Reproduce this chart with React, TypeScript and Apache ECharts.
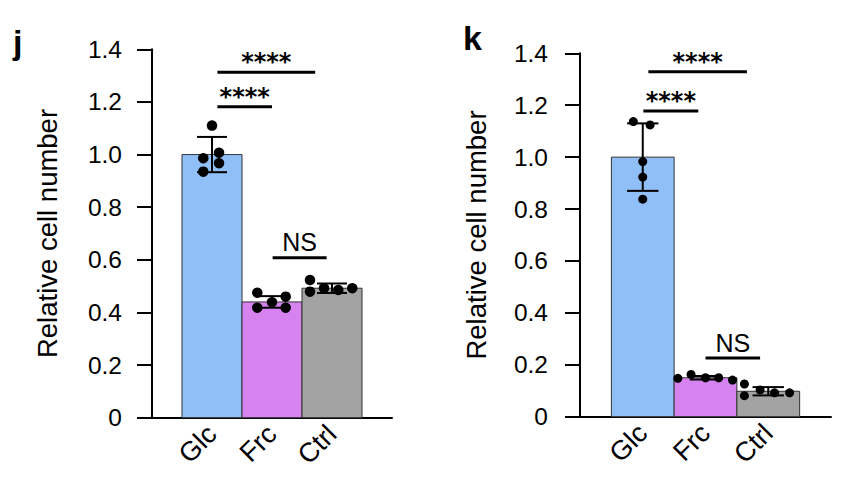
import React, { useEffect, useRef } from "react";
import * as echarts from "echarts";

const categories = ["Glc", "Frc", "Ctrl"];
const barColors = ["#90bff8", "#d683f0", "#a3a3a3"];

// Panel j
const jMeans = [1.0, 0.44, 0.492];
const jSD = [0.067, 0.022, 0.018];
const jDots = [
  [1.11, 0.986, 1.007, 0.967, 0.935],
  [0.475, 0.418, 0.439, 0.46, 0.418],
  [0.523, 0.479, 0.492, 0.485, 0.492],
];
const jJitter = [
  [0, -0.145, 0.117, 0.117, -0.145],
  [-0.245, -0.245, 0, 0.228, 0.228],
  [-0.367, -0.367, -0.133, 0.105, 0.338],
];
const jBrackets = [
  { x1: 0.09, x2: 1.72, y: 1.313, label: "****" },
  { x1: 0.09, x2: 1.0, y: 1.182, label: "****" },
  { x1: 1.01, x2: 1.91, y: 0.608, label: "NS" },
];

// Panel k
const kMeans = [1.0, 0.15, 0.098];
const kSD = [0.13, 0.007, 0.016];
const kDots = [
  [1.137, 1.124, 0.983, 0.923, 0.838],
  [0.148, 0.163, 0.15, 0.15, 0.141],
  [0.126, 0.081, 0.103, 0.092, 0.092],
];
const kJitter = [
  [-0.15, 0.117, 0, 0, 0],
  [-0.44, -0.23, 0, 0.21, 0.43],
  [-0.38, -0.38, -0.13, 0.1, 0.34],
];
const kBrackets = [
  { x1: 0.09, x2: 1.66, y: 1.329, label: "****" },
  { x1: 0.01, x2: 0.885, y: 1.178, label: "****" },
  { x1: 1.0, x2: 1.87, y: 0.226, label: "NS" },
];

const yTicks = { min: 0, max: 1.4, interval: 0.2 };
const FONT = "'Liberation Sans', Arial, Helvetica, sans-serif";

function panelSeries(
  idx: number,
  means: number[],
  sds: number[],
  dots: number[][],
  jitter: number[][],
  brackets: { x1: number; x2: number; y: number; label: string }[],
  dotSize: number
) {
  const barData = means.map((m, i) => [i, m]);
  const errData = means.map((m, i) => [i, m - sds[i], m + sds[i]]);
  const dotData: number[][] = [];
  dots.forEach((arr, i) => arr.forEach((v, k) => dotData.push([i + jitter[i][k], v])));
  const brData = brackets.map((b) => [b.x1, b.x2, b.y]);
  return [
    {
      type: "custom",
      xAxisIndex: idx,
      yAxisIndex: idx,
      z: 1,
      clip: false,
      encode: { x: 0, y: 1 },
      data: barData,
      renderItem: (params: any, api: any) => {
        const x = api.value(0);
        const v = api.value(1);
        const p0 = api.coord([x - 0.5, 0]);
        const p1 = api.coord([x + 0.5, v]);
        return {
          type: "rect",
          shape: { x: p0[0], y: p1[1], width: p1[0] - p0[0], height: p0[1] - p1[1] },
          style: { fill: barColors[params.dataIndex], stroke: "#333", lineWidth: 1 },
        };
      },
    },
    {
      type: "custom",
      xAxisIndex: idx,
      yAxisIndex: idx,
      z: 2,
      clip: false,
      encode: { x: 0, y: [1, 2] },
      data: errData,
      renderItem: (params: any, api: any) => {
        const x = api.value(0);
        const lo = api.coord([x, api.value(1)]);
        const hi = api.coord([x, api.value(2)]);
        const half = api.size([0.25, 0])[0];
        const st = { stroke: "#000", lineWidth: 2 };
        return {
          type: "group",
          children: [
            { type: "line", shape: { x1: lo[0], y1: lo[1], x2: hi[0], y2: hi[1] }, style: st },
            { type: "line", shape: { x1: lo[0] - half, y1: lo[1], x2: lo[0] + half, y2: lo[1] }, style: st },
            { type: "line", shape: { x1: hi[0] - half, y1: hi[1], x2: hi[0] + half, y2: hi[1] }, style: st },
          ],
        };
      },
    },
    {
      type: "scatter",
      xAxisIndex: idx,
      yAxisIndex: idx,
      z: 3,
      symbolSize: dotSize,
      itemStyle: { color: "#000", opacity: 1 },
      data: dotData,
    },
    {
      type: "custom",
      xAxisIndex: idx,
      yAxisIndex: idx,
      z: 4,
      clip: false,
      encode: { x: [0, 1], y: 2 },
      data: brData,
      renderItem: (params: any, api: any) => {
        const a = api.coord([api.value(0), api.value(2)]);
        const b = api.coord([api.value(1), api.value(2)]);
        const lab = brackets[params.dataIndex].label;
        const isStar = lab.indexOf("*") >= 0;
        return {
          type: "group",
          children: [
            { type: "line", shape: { x1: a[0], y1: a[1], x2: b[0], y2: b[1] }, style: { stroke: "#000", lineWidth: 3 } },
            {
              type: "text",
              x: (a[0] + b[0]) / 2,
              y: a[1] + (isStar ? -10 : -15.5),
              style: {
                text: lab,
                fill: "#000",
                fontSize: isStar ? 24 : 25,
                fontWeight: isStar ? "bold" : "normal",
                fontFamily: isStar ? "'DejaVu Sans', sans-serif" : FONT,
                align: "center",
                verticalAlign: "middle",
              },
            },
          ],
        };
      },
    },
  ];
}

function xAxisCfg(gridIndex: number) {
  return {
    type: "value",
    gridIndex,
    min: -1,
    max: 3,
    interval: 1,
    axisLine: { show: true, onZero: false, lineStyle: { color: "#000", width: 2 } },
    axisTick: { show: false },
    splitLine: { show: false },
    axisLabel: {
      rotate: 45,
      margin: 12,
      fontSize: 27,
      fontFamily: FONT,
      color: "#000",
      formatter: (v: number) => categories[v] ?? "",
    },
  };
}

function yAxisCfg(gridIndex: number, nameGap: number, labelMargin: number) {
  return {
    type: "value",
    gridIndex,
    min: yTicks.min,
    max: yTicks.max,
    interval: yTicks.interval,
    name: "Relative cell number",
    nameLocation: "middle",
    nameGap,
    nameTextStyle: { fontSize: 27.5, fontFamily: FONT, color: "#000" },
    axisLine: { show: true, onZero: false, lineStyle: { color: "#000", width: 2 } },
    axisTick: { show: true, length: 15, lineStyle: { color: "#000", width: 2 } },
    splitLine: { show: false },
    axisLabel: {
      margin: labelMargin,
      fontSize: 24.5,
      fontFamily: FONT,
      color: "#000",
      formatter: (v: number) => (v === 0 ? "0" : v.toFixed(1)),
    },
  };
}

export default function App() {
  const ref = useRef<HTMLDivElement>(null);
  useEffect(() => {
    if (!ref.current) return;
    const chart = echarts.init(ref.current, undefined, { renderer: "svg" });
    chart.setOption({
      animation: false,
      backgroundColor: "#fff",
      grid: [
        { left: 152, top: 49.3, width: 240, height: 368.4 },
        { left: 580, top: 53.3, width: 251, height: 363.4 },
      ],
      xAxis: [xAxisCfg(0), xAxisCfg(1)],
      yAxis: [yAxisCfg(0, 91, 30), yAxisCfg(1, 90, 32)],
      graphic: [
        { type: "text", left: 13, top: 25, style: { text: "j", fontSize: 34, fontWeight: "bold", fontFamily: FONT, fill: "#000" } },
        { type: "text", left: 463, top: 21, style: { text: "k", fontSize: 34, fontWeight: "bold", fontFamily: FONT, fill: "#000" } },
      ],
      series: [
        ...panelSeries(0, jMeans, jSD, jDots, jJitter, jBrackets, 10.5),
        ...panelSeries(1, kMeans, kSD, kDots, kJitter, kBrackets, 9),
      ],
    });
    return () => chart.dispose();
  }, []);
  return <div ref={ref} style={{ position: "fixed", left: 0, top: 0, width: 841, height: 491 }} />;
}
